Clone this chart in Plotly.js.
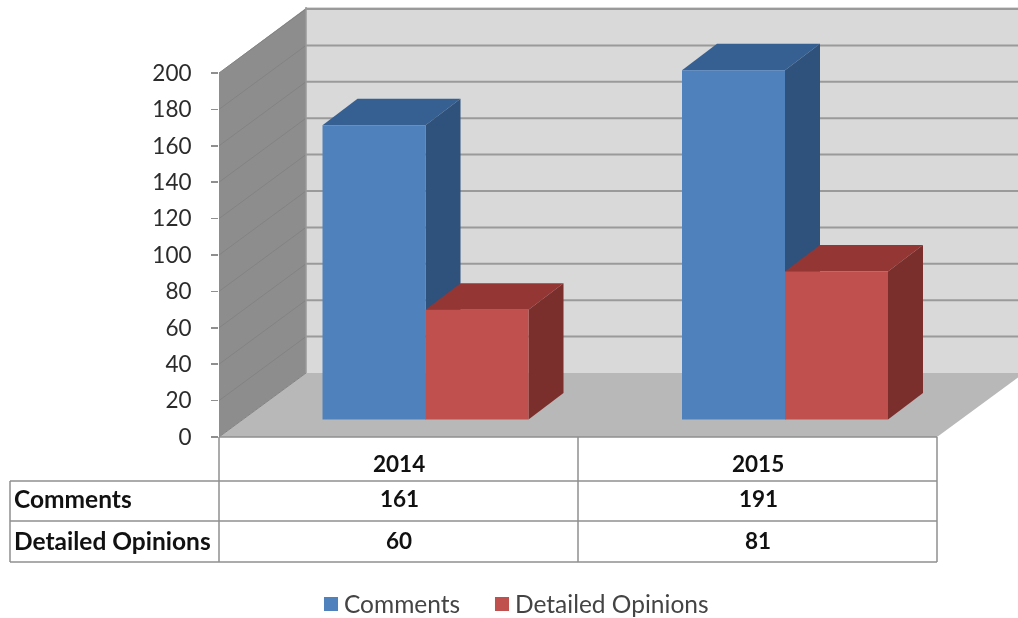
<!DOCTYPE html>
<html>
<head>
<meta charset="utf-8">
<script src="https://cdn.plot.ly/plotly-3.0.1.min.js"></script>
<style>html,body{margin:0;padding:0;background:#fff;overflow:hidden}#chart{filter:blur(0.45px)}</style>
</head>
<body>
<div id="chart" style="width:1018px;height:618px"></div>
<script>
var years = ['2014', '2015'];
var seriesNames = ['Comments', 'Detailed Opinions'];
var comments = [161, 191];
var detailedOpinions = [60, 81];
var axisTicks = [0, 20, 40, 60, 80, 100, 120, 140, 160, 180, 200];

var W = 1018, H = 618, L = 219, T = 0, PH = 437, PW = W - L;
var PX_UNIT_WALL = 1.82, PX_UNIT_BAR = 1.828, PX_GROUP = 359.5, GROUP0 = 425.5, BASE_BAR = 419.5;
var BAR_W = 103 / PX_GROUP;
var DX = 35 / PX_GROUP, DY = 26.5 / PX_UNIT_BAR;
var WALL_DX = 87, WALL_DY = 64;

function fx(px) { return (px - L) / PW; }
function fy(py) { return (PH - py) / PH; }
function poly(pts, fill, line) {
  var d = pts.map(function (p, i) { return (i ? 'L' : 'M') + fx(p[0]) + ',' + fy(p[1]); }).join(' ') + ' Z';
  return { type: 'path', xref: 'paper', yref: 'paper', layer: 'below', path: d,
           fillcolor: fill, line: { width: line ? 1.5 : 0, color: line || fill } };
}
function seg(x0, y0, x1, y1, color, w, layer) {
  return { type: 'line', xref: 'paper', yref: 'paper', layer: layer || 'below',
           x0: fx(x0), y0: fy(y0), x1: fx(x1), y1: fy(y1), line: { color: color, width: w } };
}
function valY(v) { return 437 - v * PX_UNIT_WALL; }

var shapes = [];
// back wall, side wall, floor
shapes.push(poly([[306, 7], [1018, 7], [1018, 373], [306, 373]], '#d9d9d9'));
shapes.push(poly([[219, 73], [306, 8], [306, 373], [219, 437]], '#8d8d8d'));
shapes.push(poly([[219, 437], [306, 373], [1024, 373], [937, 437]], '#b8b8b8'));
axisTicks.forEach(function (t) {
  var y = valY(t);
  shapes.push(seg(219, y, 219 + WALL_DX, y - WALL_DY, '#838383', 1));
  if (t > 0) shapes.push(seg(306, y - WALL_DY, 1018, y - WALL_DY, '#9a9a9a', 2));
});
shapes.push(seg(306, 7, 306, 373, '#9a9a9a', 1.5));

// 3-D faces of the bars, derived from the values
function faces(vals, start, topColor, sideColor) {
  vals.forEach(function (v, i) {
    var x0 = i + start, x1 = x0 + BAR_W;
    shapes.push({ type: 'path', xref: 'x', yref: 'y', layer: 'below', fillcolor: topColor, line: { width: 0 },
      path: 'M' + x0 + ',' + v + ' L' + (x0 + DX) + ',' + (v + DY) + ' L' + (x1 + DX) + ',' + (v + DY) + ' L' + x1 + ',' + v + ' Z' });
    shapes.push({ type: 'path', xref: 'x', yref: 'y', layer: 'below', fillcolor: sideColor, line: { width: 0 },
      path: 'M' + x1 + ',0 L' + (x1 + DX) + ',' + DY + ' L' + (x1 + DX) + ',' + (v + DY) + ' L' + x1 + ',' + v + ' Z' });
  });
}
faces(comments, -BAR_W, '#376092', '#2f527c');
faces(detailedOpinions, 0, '#943634', '#7b2f2d');

// data table grid
var TC = '#8f8f8f';
[[219, 437, 937, 437], [10, 481, 937, 481], [10, 521, 937, 521], [10, 562, 937, 562],
 [10, 481, 10, 562], [219, 437, 219, 562], [578, 437, 578, 562], [937, 437, 937, 562]]
  .forEach(function (s) { shapes.push(seg(s[0], s[1], s[2], s[3], TC, 1.5)); });

var annotations = [];
function cell(text, px, py, anchor, size) {
  annotations.push({ xref: 'paper', yref: 'paper', x: fx(px), y: fy(py), text: '<b>' + text + '</b>', showarrow: false,
    xanchor: anchor, yanchor: 'middle', font: { family: 'Lato, sans-serif', size: size, color: '#111' } });
}
var colX = [399, 758];
years.forEach(function (y, i) {
  cell(y, colX[i], 464, 'center', 22.5);
  cell(String(comments[i]), colX[i], 498.5, 'center', 22.5);
  cell(String(detailedOpinions[i]), colX[i], 540, 'center', 22.5);
});
cell(seriesNames[0], 12, 498.5, 'left', 24.5);
cell(seriesNames[1], 12, 540, 'left', 24.5);

var data = [
  { type: 'bar', name: seriesNames[0], x: [0, 1], y: comments, marker: { color: '#4f81bd', line: { width: 0 } }, hoverinfo: 'skip', legend: 'legend' },
  { type: 'bar', name: seriesNames[1], x: [0, 1], y: detailedOpinions, marker: { color: '#c0504d', line: { width: 0 } }, hoverinfo: 'skip', legend: 'legend2' },
  { type: 'scatter', mode: 'none', x: [0, 1], y: [0, 200], yaxis: 'y2', showlegend: false, hoverinfo: 'skip' }
];

var legendFont = { family: 'Lato, sans-serif', size: 24.5, color: '#444' };
var layout = {
  width: W, height: H, autosize: false,
  margin: { l: L, r: 0, t: T, b: H - PH, pad: 0, autoexpand: false },
  paper_bgcolor: '#fff', plot_bgcolor: 'rgba(0,0,0,0)',
  barmode: 'group', bargap: 1 - 2 * BAR_W, bargroupgap: 0,
  xaxis: { type: 'linear', range: [(L - GROUP0) / PX_GROUP, (W - GROUP0) / PX_GROUP], visible: false, fixedrange: true },
  yaxis: { type: 'linear', range: [-(437 - BASE_BAR) / PX_UNIT_BAR, BASE_BAR / PX_UNIT_BAR], visible: false, fixedrange: true },
  yaxis2: { type: 'linear', overlaying: 'y', side: 'left', anchor: 'x', range: [0, 437 / PX_UNIT_WALL], fixedrange: true,
    tickmode: 'array', tickvals: axisTicks, ticktext: axisTicks.map(String), ticks: 'outside', ticklen: 7, tickwidth: 1.5,
    tickcolor: '#8f8f8f', showgrid: false, zeroline: false, showline: false, ticklabelstandoff: 15,
    tickfont: { family: 'Lato, sans-serif', size: 22.5, color: '#2b2b2b' } },
  showlegend: true,
  legend: { orientation: 'h', x: fx(304), xanchor: 'left', y: fy(604), yanchor: 'middle', bgcolor: 'rgba(0,0,0,0)', font: legendFont },
  legend2: { orientation: 'h', x: fx(475), xanchor: 'left', y: fy(604), yanchor: 'middle', bgcolor: 'rgba(0,0,0,0)', font: legendFont },
  shapes: shapes, annotations: annotations
};
Plotly.newPlot('chart', data, layout, { staticPlot: true, displayModeBar: false }).then(function () {
  document.querySelectorAll('.legendpoints path').forEach(function (p) {
    p.setAttribute('transform', 'translate(27,0) scale(1.17)');
  });
});
</script>
</body>
</html>
